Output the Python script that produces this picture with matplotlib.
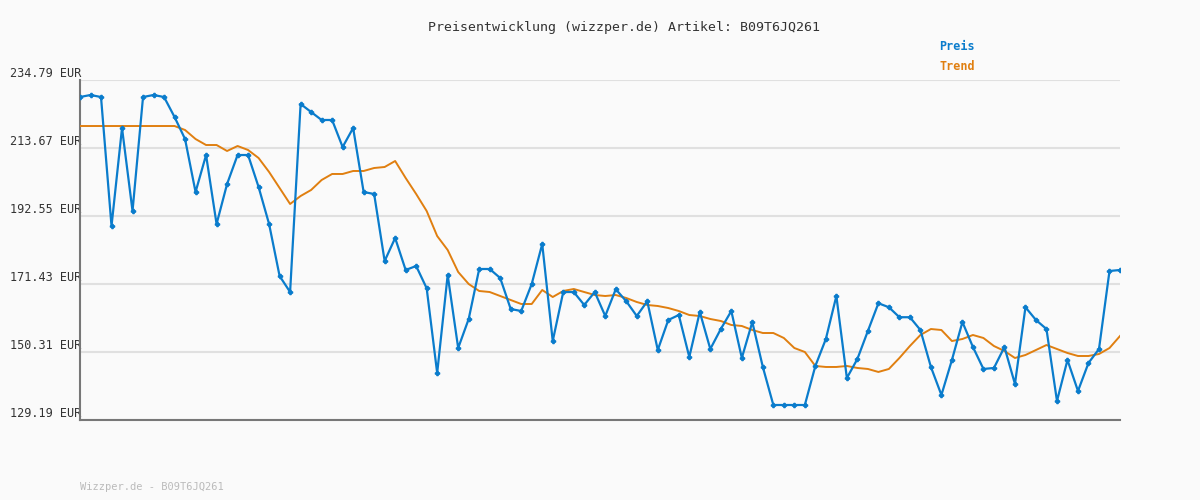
import matplotlib.pyplot as plt

preis = [229.51, 230.13, 229.51, 189.44, 219.88, 194.10, 229.51, 230.13, 229.51, 223.30,
         216.46, 200.00, 211.49, 190.06, 202.49, 211.49, 211.49, 201.56, 190.06, 173.91,
         168.94, 227.34, 224.85, 222.37, 222.37, 213.98, 219.88, 200.00, 199.38, 178.57,
         185.72, 175.78, 177.02, 170.11, 143.78, 174.22, 151.55, 160.56, 176.09, 176.09,
         173.29, 163.66, 163.04, 171.43, 183.86, 153.72, 168.94, 168.94, 164.91, 168.94,
         161.49, 169.80, 166.07, 161.49, 166.07, 150.93, 160.25, 161.80, 148.76, 162.73,
         151.24, 157.45, 163.04, 148.45, 159.63, 145.66, 133.85, 133.85, 133.85, 133.85,
         145.97, 154.35, 167.70, 142.23, 148.14, 156.83, 165.45, 164.21, 161.11, 161.11,
         157.14, 145.66, 136.95, 147.83, 159.63, 151.86, 145.04, 145.35, 151.86, 140.38,
         164.21, 160.25, 157.45, 135.09, 147.83, 138.20, 146.90, 151.24, 175.47, 175.78]

trend = [220.50, 220.50, 220.50, 220.50, 220.50, 220.50, 220.50, 220.50, 220.50, 220.50,
         219.26, 216.46, 214.60, 214.60, 212.74, 214.29, 213.05, 210.56, 206.22, 201.25,
         196.28, 198.76, 200.63, 203.73, 205.60, 205.60, 206.53, 206.53, 207.46, 207.77,
         209.63, 204.35, 199.38, 194.10, 186.33, 181.99, 175.16, 171.43, 169.26, 168.94,
         167.70, 166.46, 165.22, 165.22, 169.57, 167.39, 169.26, 169.88, 168.94, 168.01,
         167.70, 168.01, 167.08, 165.84, 164.91, 164.60, 163.97, 163.04, 161.80, 161.49,
         160.56, 159.94, 158.70, 158.39, 157.14, 156.21, 156.21, 154.66, 151.55, 150.31,
         145.97, 145.66, 145.66, 145.97, 145.35, 145.04, 144.11, 145.04, 148.45, 152.17,
         155.59, 157.45, 157.14, 153.72, 154.35, 155.59, 154.66, 152.17, 150.62, 148.45,
         149.38, 150.93, 152.48, 151.24, 150.00, 149.07, 149.07, 149.69, 151.55, 155.28]

yticks = [129.19, 150.31, 171.43, 192.55, 213.67, 234.79]
blue = '#0a7ccc'
orange = '#e07f10'
mono = 'DejaVu Sans Mono'

fig = plt.figure(figsize=(12, 5), dpi=100, facecolor='#fafafa')
ax = fig.add_axes([80 / 1200, 0.16, 1040 / 1200, 0.68], facecolor='#fafafa')

x = list(range(len(preis)))
ax.plot(x, trend, color=orange, linewidth=1.4, zorder=3)
ax.plot(x, preis, color=blue, linewidth=1.6, marker='P', markersize=3, zorder=4)

ax.set_xlim(0, len(preis) - 1)
ax.set_ylim(129.19, 234.79)
ax.set_yticks(yticks)
ax.set_yticklabels(['%.2f EUR' % v for v in yticks], fontsize=8.5, family=mono, color='#333333')
ax.set_xticks([])
ax.tick_params(axis='y', length=0, pad=2)
for label in ax.get_yticklabels():
    label.set_horizontalalignment('left')
    label.set_x(-0.0645)
    label.set_verticalalignment('bottom')
ax.grid(axis='y', color='#e0e0e0', linewidth=1.5)
ax.set_axisbelow(True)
for s in ['top', 'right']:
    ax.spines[s].set_visible(False)
ax.spines['left'].set_color('#777777')
ax.spines['bottom'].set_color('#777777')
ax.spines['left'].set_linewidth(1.5)
ax.spines['bottom'].set_linewidth(1.5)

fig.text(0.52, 0.945, 'Preisentwicklung (wizzper.de) Artikel: B09T6JQ261', ha='center', va='center',
         fontsize=9.5, family=mono, color='#333333')
fig.text(939 / 1200, 0.907, 'Preis', fontsize=8.5, family=mono, color=blue, weight='bold', va='center')
fig.text(939 / 1200, 0.866, 'Trend', fontsize=8.5, family=mono, color=orange, weight='bold', va='center')
fig.text(80 / 1200, 0.026, 'Wizzper.de - B09T6JQ261', fontsize=7.5, family=mono, color='#bbbbbb', va='center')

fig.savefig('out.png', dpi=100, facecolor=fig.get_facecolor())
